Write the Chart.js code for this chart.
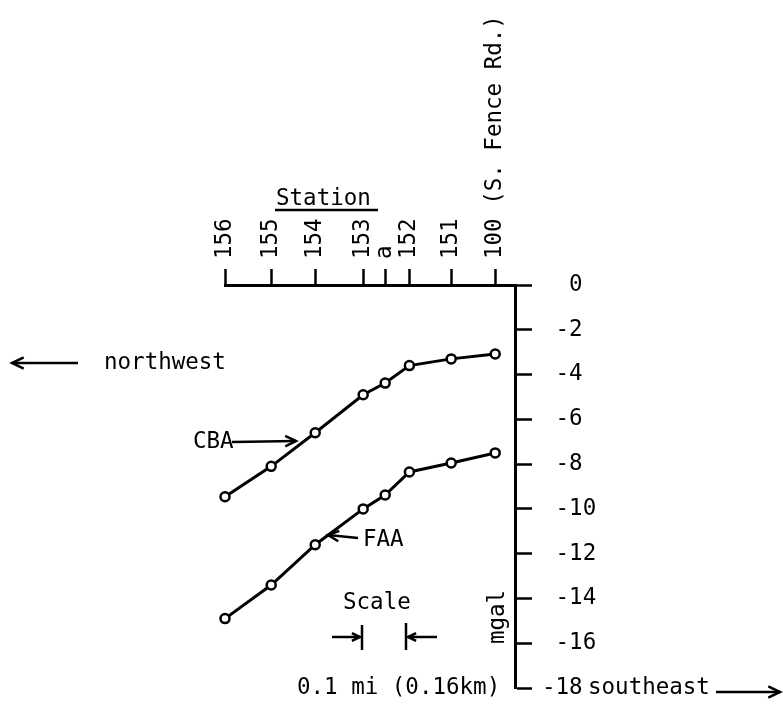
<!DOCTYPE html>
<html><head><meta charset="utf-8">
<script src="https://cdn.jsdelivr.net/npm/chart.js@4/dist/chart.umd.min.js"></script>
<style>html,body{margin:0;padding:0;background:#fff}#wrap{width:783px;height:706px}</style>
</head><body><div id="wrap"><canvas id="c" width="783" height="706"></canvas></div>
<script>
// Station labels (top axis), their distance from station 100 in miles (read via the 0.1 mi scale bar)
const stations = ['156', '155', '154', '153', 'a', '152', '151', '100 (S. Fence Rd.)'];
const stationDistMi = [0.614, 0.509, 0.409, 0.300, 0.250, 0.195, 0.100, 0];
// Anomaly values in mgal
const cbaValues = [-9.46, -8.1, -6.6, -4.9, -4.38, -3.6, -3.3, -3.08];
const faaValues = [-14.9, -13.4, -11.6, -10.0, -9.38, -8.35, -7.95, -7.5];
// Y tick values (mgal) and their printed labels
const yTickValues = [0, -2, -4, -6, -8, -10, -12, -14, -16, -18];
const yTickLabels = ['  0', ' -2', ' -4', ' -6', ' -8', ' -10', ' -12', ' -14', ' -16', '-18'];

const FONT = 'DejaVu Sans Mono';
const FS = 22.5;

function arrowLine(ctx, x1, y1, x2, y2, hl) {
  ctx.beginPath(); ctx.moveTo(x1, y1); ctx.lineTo(x2, y2); ctx.stroke();
  const a = Math.atan2(y2 - y1, x2 - x1);
  ctx.beginPath();
  ctx.moveTo(x2 - hl * Math.cos(a - 0.45), y2 - hl * Math.sin(a - 0.45));
  ctx.lineTo(x2, y2);
  ctx.lineTo(x2 - hl * Math.cos(a + 0.45), y2 - hl * Math.sin(a + 0.45));
  ctx.stroke();
}

const notes = {
  id: 'notes',
  afterDraw(chart) {
    const ctx = chart.ctx;
    ctx.save();
    ctx.fillStyle = '#000'; ctx.strokeStyle = '#000';
    ctx.font = FS + 'px "' + FONT + '"';
    ctx.textBaseline = 'middle'; ctx.textAlign = 'left';
    ctx.lineWidth = 2.5;
    // Station title
    ctx.fillText('Station', 276, 199);
    ctx.beginPath(); ctx.moveTo(275, 210); ctx.lineTo(378, 210); ctx.stroke();
    // northwest
    arrowLine(ctx, 78, 363, 12, 363, 13);
    ctx.fillText('northwest', 104, 363);
    // CBA
    ctx.fillText('CBA', 193, 442);
    arrowLine(ctx, 232, 442, 296, 441, 12);
    // FAA
    ctx.fillText('FAA', 363, 540);
    arrowLine(ctx, 358, 538, 328, 535, 12);
    // Scale
    ctx.fillText('Scale', 343, 603);
    arrowLine(ctx, 332, 637, 360, 637, 9);
    ctx.beginPath(); ctx.moveTo(362, 625); ctx.lineTo(362, 650); ctx.stroke();
    arrowLine(ctx, 437, 637, 408, 637, 9);
    ctx.beginPath(); ctx.moveTo(406, 623); ctx.lineTo(406, 650); ctx.stroke();
    ctx.fillText('0.1 mi (0.16km)', 297, 688);
    // southeast
    ctx.fillText('southeast', 588, 688);
    arrowLine(ctx, 716, 692, 780, 692, 13);
    // mgal
    ctx.save();
    ctx.translate(498, 617); ctx.rotate(-Math.PI / 2);
    ctx.textAlign = 'center';
    ctx.fillText('mgal', 0, 0);
    ctx.restore();
    ctx.restore();
  }
};

function series(vals) { return stationDistMi.map((d, i) => ({ x: d, y: vals[i] })); }
const ds = (label, vals) => ({
  label, data: series(vals), showLine: true, clip: false,
  borderColor: '#000', borderWidth: 3,
  pointRadius: 4.5, pointBackgroundColor: '#fff', pointBorderColor: '#000', pointBorderWidth: 2.5
});

new Chart(document.getElementById('c'), {
  type: 'scatter',
  data: { datasets: [ds('CBA', cbaValues), ds('FAA', faaValues)] },
  options: {
    responsive: false, animation: false, devicePixelRatio: 1,
    layout: { padding: { left: 225, right: 0, top: 0, bottom: 18 } },
    plugins: { legend: { display: false }, tooltip: { enabled: false } },
    scales: {
      x: {
        type: 'linear', position: 'top', reverse: true, min: -0.045, max: 0.614,
        afterBuildTicks: s => { s.ticks = stationDistMi.map(v => ({ value: v })); },
        afterFit: s => { s.height = 285; },
        ticks: {
          autoSkip: false, minRotation: 90, maxRotation: 90, padding: 10, color: '#000',
          font: { family: FONT, size: FS, lineHeight: 0.01 },
          callback: (v, i) => stations[i]
        },
        grid: { drawOnChartArea: false, drawTicks: true, tickLength: 16, tickWidth: 2.5, color: '#000' },
        border: { display: true, color: '#000', width: 3 }
      },
      y: {
        position: 'right', min: -18, max: 0,
        afterBuildTicks: s => { s.ticks = yTickValues.map(v => ({ value: v })); },
        afterFit: s => { s.width = 268; },
        ticks: {
          padding: 10, color: '#000', font: { family: FONT, size: FS, lineHeight: 0.3 },
          callback: (v, i) => yTickLabels[i]
        },
        grid: { drawOnChartArea: false, drawTicks: true, tickLength: 17, tickWidth: 2.5, color: '#000' },
        border: { display: true, color: '#000', width: 3 }
      }
    }
  },
  plugins: [notes]
});
</script></body></html>
